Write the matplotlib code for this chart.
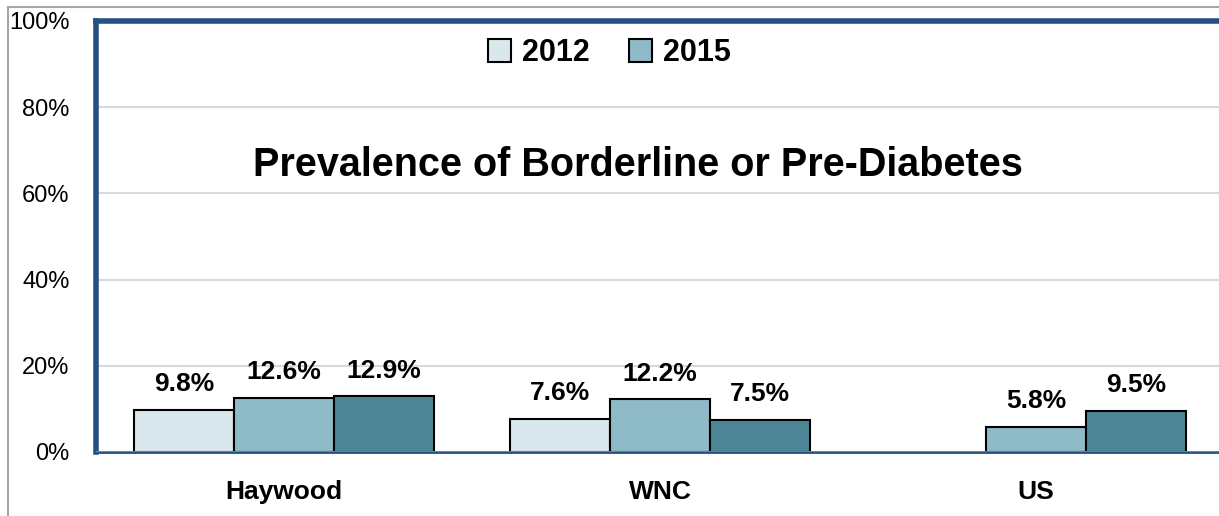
import numpy as np
import matplotlib
matplotlib.use("Agg")
import matplotlib.pyplot as plt
from matplotlib.patches import Patch
from matplotlib.lines import Line2D

# data
categories = ["Haywood", "WNC", "US"]
vals_2012 = [9.8, 7.6, np.nan]
vals_2015 = [12.6, 12.2, 5.8]
vals_third = [12.9, 7.5, 9.5]
yticks = [0, 20, 40, 60, 80, 100]

c_2012 = "#DAE8EE"
c_2015 = "#8FBAC8"
c_third = "#4D8797"
frame_blue = "#264F82"
sans = ["Liberation Sans", "DejaVu Sans"]

fig = plt.figure(figsize=(12.19, 5.16), dpi=100)
ax = fig.add_axes([96 / 1219, 1 - 452 / 516, 1128 / 1219, 431 / 516])

x = np.arange(len(categories))
w = 100 / 376
ax.bar(x - w, vals_2012, w, color=c_2012, edgecolor="black", linewidth=1.5, zorder=3)
ax.bar(x, vals_2015, w, color=c_2015, edgecolor="black", linewidth=1.5, zorder=3)
ax.bar(x + w, vals_third, w, color=c_third, edgecolor="black", linewidth=1.5, zorder=3)

for off, vals in [(-w, vals_2012), (0, vals_2015), (w, vals_third)]:
    for xi, v in zip(x, vals):
        if np.isnan(v):
            continue
        ax.annotate(f"{v:.1f}%", (xi + off, v), xytext=(0, 10), textcoords="offset points",
                    ha="center", va="bottom", fontsize=19, fontweight="bold", family=sans)

ax.set_xlim(-0.5, 2.5)
ax.set_ylim(0, 100)
ax.set_yticks(yticks)
ax.set_yticklabels([f"{t}%" for t in yticks], family=sans, fontsize=17)
ax.set_xticks(x)
ax.set_xticklabels(categories, family=sans, fontsize=19, fontweight="bold")
ax.tick_params(axis="y", length=0, pad=19)
ax.tick_params(axis="x", length=0, pad=20)
ax.grid(axis="y", color="#D9D9D9", linewidth=1.5, zorder=0)
ax.axhline(0, color="#8C8C8C", linewidth=2, zorder=4)

for s in ["left", "top", "right"]:
    ax.spines[s].set_color(frame_blue)
    ax.spines[s].set_linewidth(4)
ax.spines["bottom"].set_color(frame_blue)
ax.spines["bottom"].set_linewidth(2)

ax.text(0.48, 0.665, "Prevalence of Borderline or Pre-Diabetes", transform=ax.transAxes,
        ha="center", va="center", fontsize=28.5, fontweight="bold", family=sans)

handles = [Patch(facecolor=c_2012, edgecolor="black", linewidth=1.5),
           Patch(facecolor=c_2015, edgecolor="black", linewidth=1.5)]
leg = ax.legend(handles, ["2012", "2015"], loc="center", bbox_to_anchor=(0.455, 0.925),
                ncol=2, frameon=False, handlelength=0.75, handleheight=0.75,
                handletextpad=0.35, columnspacing=1.3,
                prop={"family": sans, "size": 22, "weight": "bold"})

# outer picture border (grey)
fig.add_artist(Line2D([8 / 1219, 8 / 1219], [0, 1 - 7 / 516], color="#A6A6A6", linewidth=1.5))
fig.add_artist(Line2D([8 / 1219, 1], [1 - 7 / 516, 1 - 7 / 516], color="#A6A6A6", linewidth=1.5))

fig.savefig("out.png", dpi=100)
